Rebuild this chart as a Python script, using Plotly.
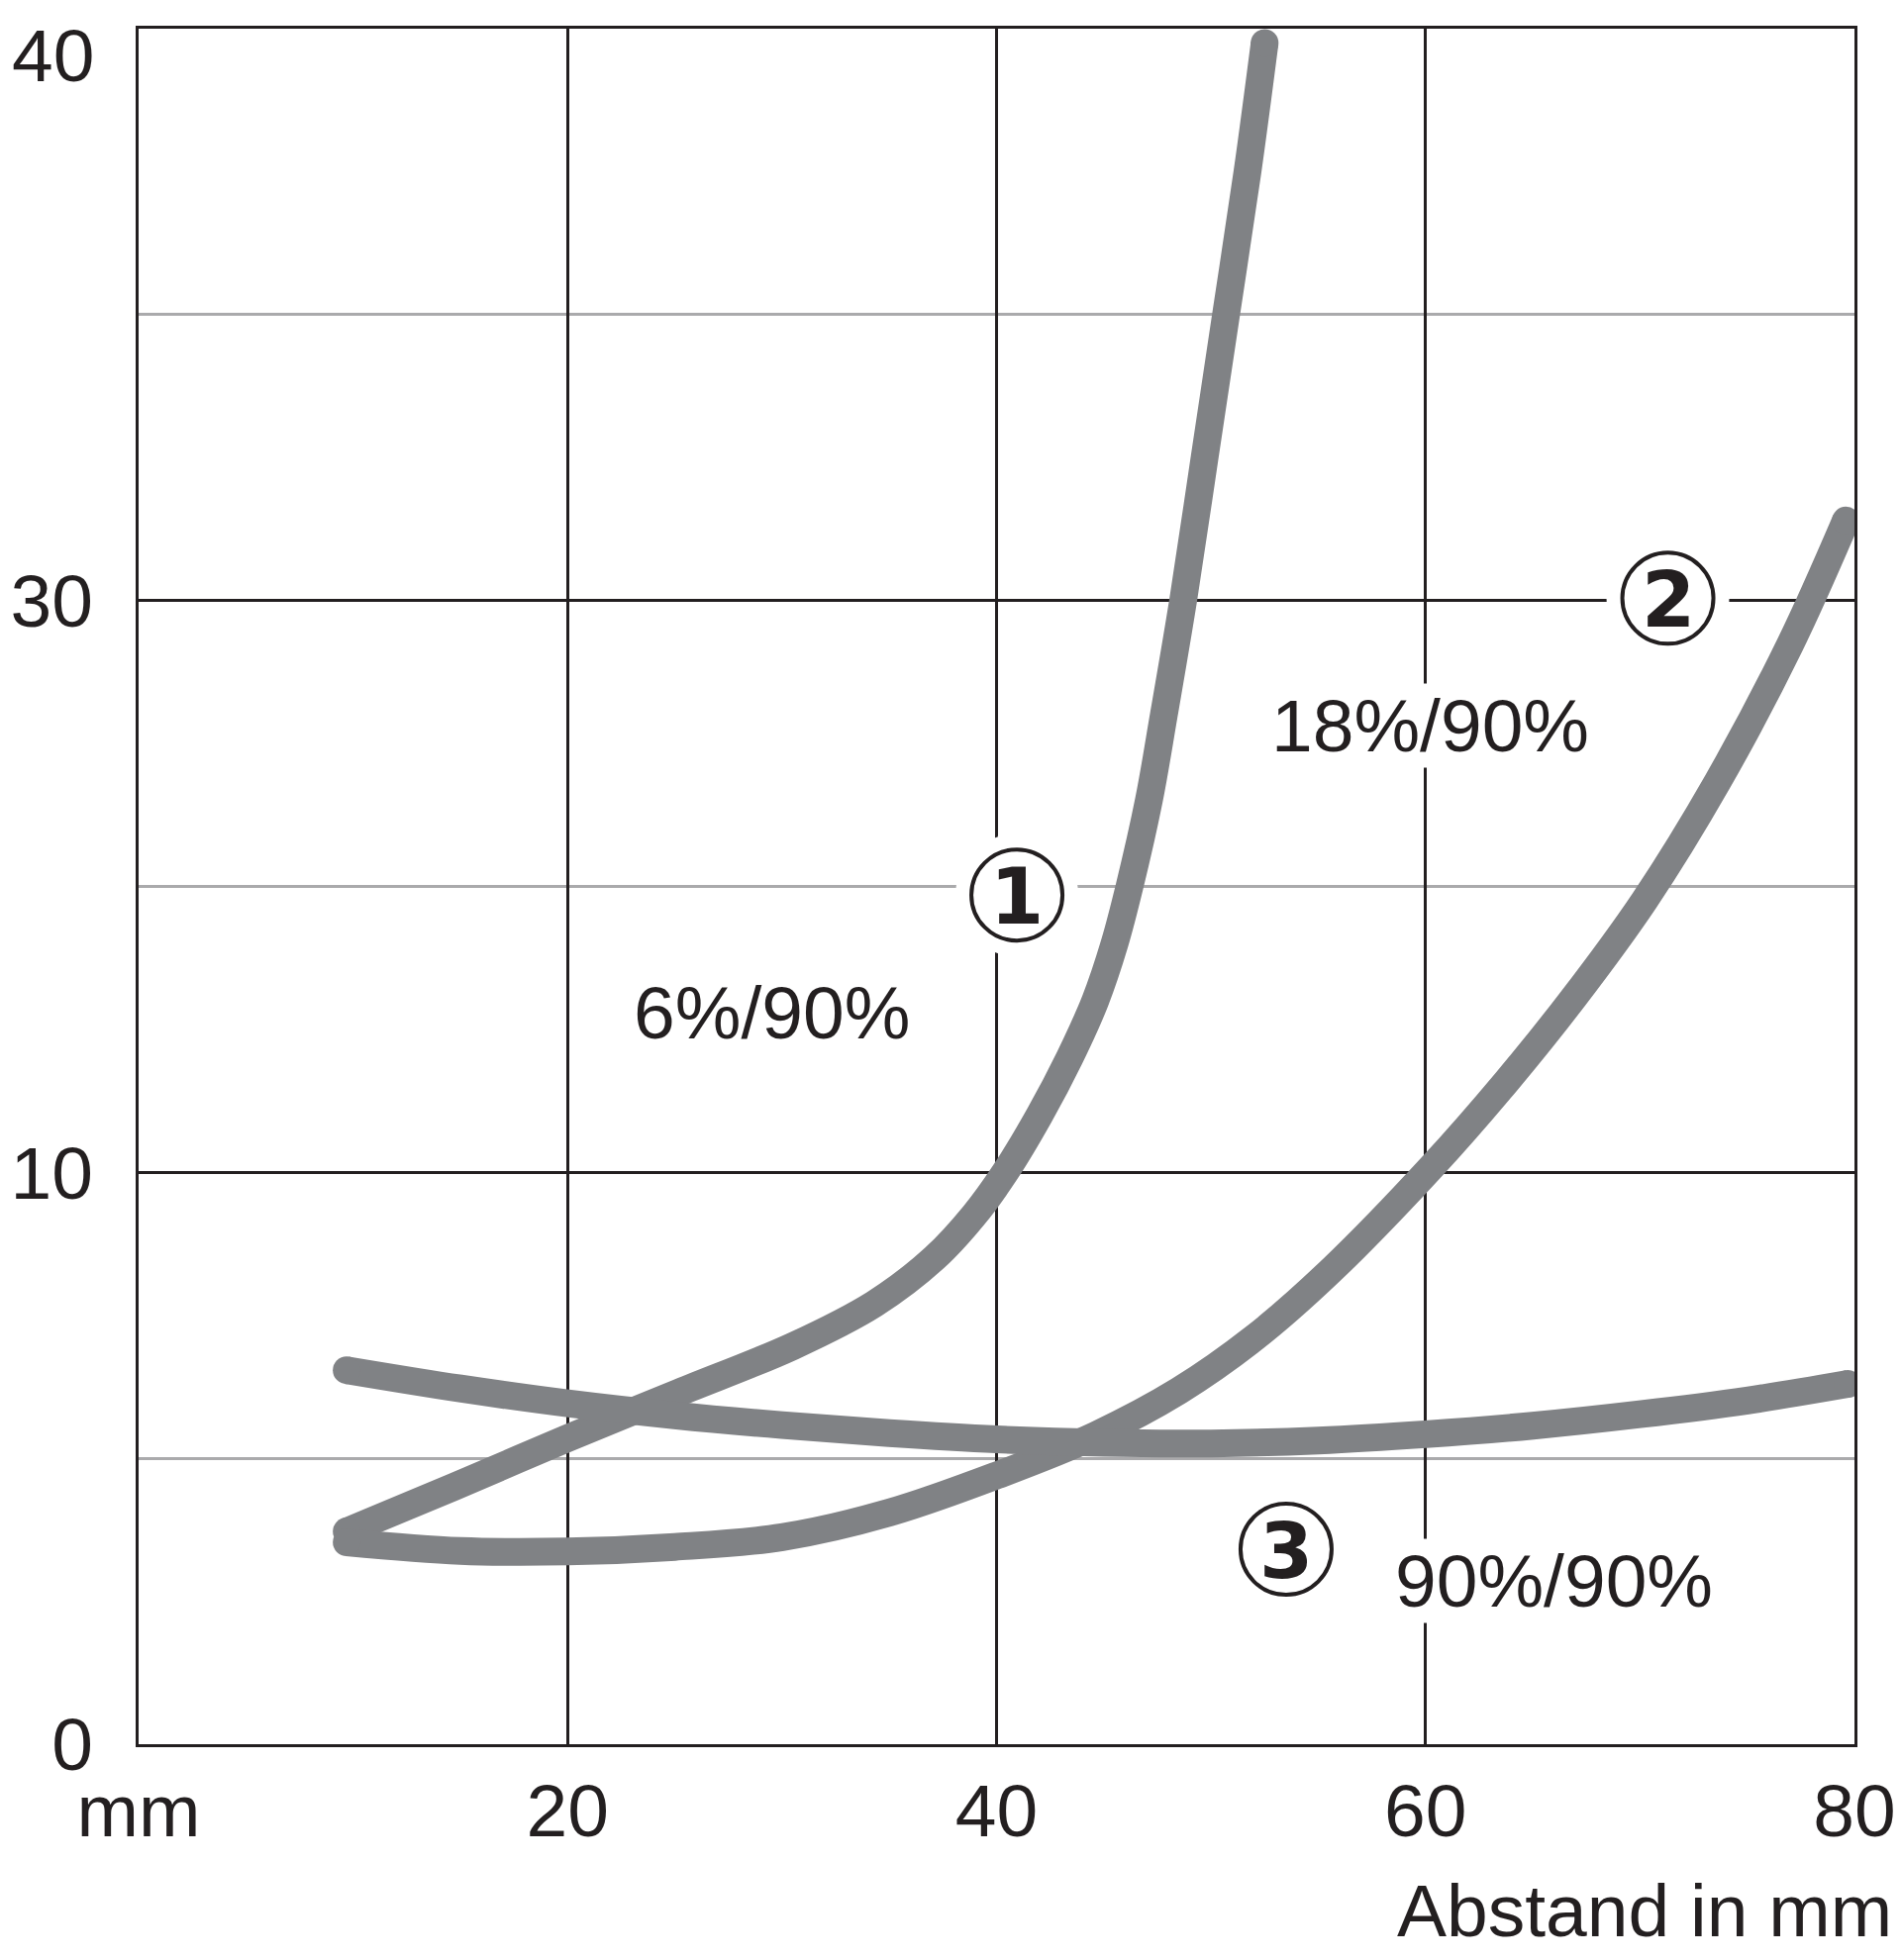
import plotly.graph_objects as go

LINE_GREY = "#808285"
GRID_GREY = "#aaaaac"
INK = "#231f20"
FONT = "Liberation Sans, Arial, sans-serif"

# axis ticks (y axis is drawn in grid units, labels as printed)
x_ticks = [0, 20, 40, 60, 80]
x_tick_labels = ["mm", "20", "40", "60", "80"]
y_ticks = [0, 1, 2, 3]
y_tick_labels = ["0", "10", "30", "40"]
y_half_lines = [0.5, 1.5, 2.5]

# curve 1 (6%/90%)
curve1_x = [9.7, 14.7, 20.0, 25.2, 30.5, 34.3, 37.1, 38.95, 40.4, 42.0, 43.4, 44.6, 45.5, 46.2, 47.1, 47.8, 48.7, 49.7, 50.7, 51.7, 52.5]
curve1_y = [0.372, 0.45, 0.535, 0.615, 0.696, 0.77, 0.85, 0.925, 1.0, 1.1, 1.2, 1.3, 1.4, 1.5, 1.65, 1.8, 2.0, 2.25, 2.5, 2.75, 2.975]

# curve 2 (18%/90%)
curve2_x = [9.7, 15, 20, 25, 30, 35, 40, 44.6, 48.5, 52, 55.5, 60.3, 63.8, 66.8, 70.2, 73.6, 77.0, 79.6]
curve2_y = [0.353, 0.338, 0.337, 0.345, 0.362, 0.405, 0.470, 0.540, 0.618, 0.71, 0.825, 1.01, 1.16, 1.30, 1.475, 1.682, 1.923, 2.14]

# curve 3 (90%/90%)
curve3_x = [9.7, 15, 20, 25, 30, 35, 40, 45, 50, 55, 60, 65, 70, 75, 79.7]
curve3_y = [0.654, 0.622, 0.596, 0.575, 0.558, 0.544, 0.533, 0.527, 0.526, 0.531, 0.542, 0.557, 0.577, 0.601, 0.630]

curve_labels = ["6%/90%", "18%/90%", "90%/90%"]
curve_numbers = ["1", "2", "3"]

fig = go.Figure()

for cx, cy in [(curve1_x, curve1_y), (curve2_x, curve2_y), (curve3_x, curve3_y)]:
    fig.add_trace(
        go.Scatter(
            x=cx,
            y=cy,
            mode="lines",
            line=dict(color=LINE_GREY, width=28, shape="spline", smoothing=1.0),
            hoverinfo="skip",
        )
    )
    # round ends of the thick strokes
    fig.add_trace(
        go.Scatter(
            x=[cx[0], cx[-1]],
            y=[cy[0], cy[-1]],
            mode="markers",
            marker=dict(color=LINE_GREY, size=28),
            hoverinfo="skip",
        )
    )

# curve names, white background breaks the grid lines
label_pos = [(29.5, 1.279), (60.24, 1.781), (66.0, 0.286)]
for text, (lx, ly) in zip(curve_labels, label_pos):
    fig.add_annotation(
        x=lx, y=ly, text=text, showarrow=False,
        font=dict(family=FONT, size=75, color=INK),
        bgcolor="white", borderpad=0,
    )

# circled numbers
number_pos = [(40.95, 1.485), (71.3, 2.004), (53.5, 0.341)]
for num, (nx, ny) in zip(curve_numbers, number_pos):
    fig.add_shape(
        type="circle", xref="x", yref="y", xsizemode="pixel", ysizemode="pixel",
        xanchor=nx, yanchor=ny, x0=-62, x1=62, y0=-62, y1=62,
        fillcolor="white", line=dict(width=0), layer="above",
    )
    fig.add_shape(
        type="circle", xref="x", yref="y", xsizemode="pixel", ysizemode="pixel",
        xanchor=nx, yanchor=ny, x0=-46, x1=46, y0=-46, y1=46,
        fillcolor="white", line=dict(color=INK, width=4), layer="above",
    )
    fig.add_annotation(
        x=nx, y=ny, text=num, showarrow=False, yshift=-2,
        font=dict(family="DejaVu Sans, sans-serif", size=78, color=INK, weight="bold"),
    )

# top y label sits a little below the frame, like in the print
fig.add_annotation(
    xref="paper", yref="paper", x=-0.0254, y=0.9845, xanchor="right", yanchor="middle",
    text=y_tick_labels[-1], showarrow=False, borderpad=0,
    font=dict(family=FONT, size=75, color=INK),
)

fig.add_annotation(
    xref="paper", yref="paper", x=1.023, y=-0.097, xanchor="right", yanchor="middle",
    text="Abstand in mm", showarrow=False,
    font=dict(family=FONT, size=75, color=INK),
)

# the page body adds 8px, so the figure is 8px smaller to keep the frame in place
fig.update_layout(
    width=1912,
    height=1972,
    margin=dict(l=132, r=47, t=21, b=218),
    paper_bgcolor="white",
    plot_bgcolor="white",
    showlegend=False,
    font=dict(family=FONT, size=75, color=INK),
    xaxis=dict(
        range=[0, 80],
        tickvals=x_ticks,
        ticktext=x_tick_labels,
        showgrid=True,
        gridcolor=INK,
        gridwidth=3,
        showline=True,
        linecolor=INK,
        linewidth=3,
        mirror=True,
        zeroline=False,
        ticks="",
        ticklabelstandoff=0,
        automargin=False,
        tickfont=dict(family=FONT, size=75, color=INK),
    ),
    yaxis=dict(
        range=[0, 3],
        tickvals=y_ticks[:-1],
        ticktext=y_tick_labels[:-1],
        showgrid=True,
        gridcolor=INK,
        gridwidth=3,
        showline=True,
        linecolor=INK,
        linewidth=3,
        mirror=True,
        zeroline=False,
        ticks="",
        ticklabelstandoff=28,
        automargin=False,
        tickfont=dict(family=FONT, size=75, color=INK),
        minor=dict(tickvals=y_half_lines, showgrid=True, gridcolor=GRID_GREY, gridwidth=3),
    ),
)

fig.write_html("out.html")
